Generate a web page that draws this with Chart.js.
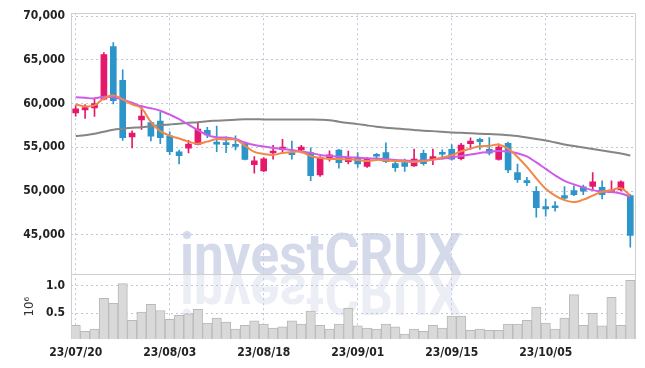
<!DOCTYPE html>
<html>
<head>
<meta charset="utf-8">
<script src="https://cdn.jsdelivr.net/npm/chart.js@4.4.0/dist/chart.umd.min.js"></script>
<style>
html, body { margin: 0; padding: 0; background: #fff; }
#wrap { width: 645px; height: 368px; }
</style>
</head>
<body>
<div id="wrap"><canvas id="chart"></canvas></div>
<script>
// trading days, 23/07/20 .. 23/10/19
const labels = ['23/07/20','23/07/21','23/07/24','23/07/25','23/07/26','23/07/27','23/07/28','23/07/31','23/08/01','23/08/02',
  '23/08/03','23/08/04','23/08/07','23/08/08','23/08/09','23/08/10','23/08/11','23/08/14','23/08/16','23/08/17',
  '23/08/18','23/08/21','23/08/22','23/08/23','23/08/24','23/08/25','23/08/28','23/08/29','23/08/30','23/08/31',
  '23/09/01','23/09/04','23/09/05','23/09/06','23/09/07','23/09/08','23/09/11','23/09/12','23/09/13','23/09/14',
  '23/09/15','23/09/18','23/09/19','23/09/20','23/09/21','23/09/22','23/09/25','23/09/26','23/09/27','23/10/04',
  '23/10/05','23/10/06','23/10/10','23/10/11','23/10/12','23/10/13','23/10/16','23/10/17','23/10/18','23/10/19'];

const opens = [58930,59270,59500,60520,66510,62650,56200,58140,57840,57990,
  56320,54470,54890,55340,56930,55520,55520,55300,55400,53020,
  52310,54350,54730,54390,54690,54400,51850,53750,54690,53350,
  53800,52800,54200,54390,53140,53250,52880,54320,53640,54380,
  54770,53700,55410,55900,54770,53600,55450,52110,51100,49970,
  48220,48250,49470,50050,50490,50520,50410,49890,50110,49470];
const closes = [59390,59550,60000,65600,60340,56090,56630,58560,56280,56090,
  54500,54050,55380,57080,56430,55370,55300,55100,53600,53440,
  53670,54580,55030,54160,55030,51740,53820,54130,53250,53820,
  53100,53750,53980,53360,52680,52800,53640,53140,53940,54200,
  53640,55260,55720,55640,54320,55030,52400,51290,50950,48080,
  47960,48080,49170,49580,49970,51060,49580,50110,51060,44920];
const highs = [59770,59890,60570,65830,66970,63860,56890,59770,57990,59010,
  56770,54690,55800,57730,57270,57420,56200,56300,55500,53950,
  53820,55230,55900,55720,55230,54950,53930,54600,54770,54580,
  54400,53820,54300,55500,53480,53640,54800,54690,54800,54700,
  55300,55450,56090,56050,56100,55410,55600,53070,51550,50500,
  49090,48780,50520,50600,50680,52110,51170,51170,51170,49580];
const lows = [58560,58300,58520,60410,59950,55800,54920,57050,55720,55410,
  54160,53100,54350,55260,56090,54500,54380,54700,53550,52050,
  52200,53640,54500,53640,54350,51170,51660,53400,52620,53100,
  52700,52690,53670,53250,52230,52230,52800,52960,53000,53640,
  53520,53560,54800,54770,54130,53520,52110,50980,50600,47000,
  47120,47680,48980,49470,49580,50030,49090,49850,50000,43560];

// moving averages as drawn (5, 20, 60 day)
const ma5 = [59890,59690,59800,60600,60940,60490,59920,59470,57880,56850,
  56340,56000,55650,55420,55650,55940,55880,55880,55200,54470,
  54240,54130,54350,54470,54470,54010,53780,53670,53670,53610,
  53560,53440,53560,53500,53440,53390,53330,53440,53580,53830,
  54090,54540,54850,55110,55170,55300,54850,53900,52760,51450,
  50260,49470,48960,48730,49010,49470,49920,50090,50320,49470];
const ma20 = [60720,60660,60600,60790,60720,60450,60090,59690,59470,59180,
  58730,58220,57590,56970,56400,56140,56110,55940,55550,55260,
  55090,54920,54810,54690,54520,54350,54130,54010,53930,53860,
  53820,53750,53710,53640,53560,53500,53440,53500,53590,53710,
  53840,54010,54180,54350,54500,54580,54520,54320,53950,53270,
  52530,51790,51160,50760,50400,50100,49950,49880,49720,49340];
const ma60 = [56280,56390,56560,56790,57010,57130,57240,57300,57410,57530,
  57610,57700,57810,57870,57990,58040,58100,58160,58210,58210,
  58190,58180,58180,58180,58180,58180,58160,58100,57930,57780,
  57650,57500,57360,57240,57150,57070,56990,56900,56850,56770,
  56700,56660,56620,56560,56510,56470,56390,56280,56110,55940,
  55770,55550,55320,55150,54980,54810,54640,54470,54300,54070];

// volume, millions of shares
const volumes = [0.28,0.17,0.21,0.77,0.68,1.04,0.37,0.52,0.66,0.55,
  0.39,0.46,0.49,0.57,0.32,0.41,0.34,0.21,0.28,0.36,
  0.30,0.23,0.25,0.36,0.30,0.54,0.28,0.21,0.30,0.59,
  0.27,0.23,0.21,0.30,0.25,0.12,0.21,0.17,0.28,0.23,
  0.45,0.45,0.19,0.21,0.19,0.19,0.30,0.30,0.37,0.61,
  0.32,0.21,0.41,0.84,0.28,0.50,0.27,0.79,0.28,1.10];

const priceTicks = [45000, 50000, 55000, 60000, 65000, 70000];
const volTicks = [0.5, 1.0];

const UP = '#e5196b', DOWN = '#2d95c9';
const candleColors = opens.map((o, i) => closes[i] >= o ? UP : DOWN);
const gridColor = '#c2c6dc';
const dots = [2, 3];
const axisFont = { family: '"DejaVu Sans Condensed", "DejaVu Sans"', size: 12, weight: 'bold' };

const watermark = {
  id: 'watermark',
  beforeDraw(chart) {
    const ctx = chart.ctx;
    const base = chart.scales.yv.top;
    ctx.save();
    ctx.font = 'bold 58px Roboto, "DejaVu Sans"';
    const w = ctx.measureText('investCRUX').width;
    ctx.translate(180, base);
    ctx.scale(282 / w, 1);
    ctx.fillStyle = '#d5daeb';
    ctx.fillText('investCRUX', 0, 0);
    ctx.scale(1, -1);
    ctx.globalAlpha = 0.45;
    ctx.fillText('investCRUX', 0, 0);
    ctx.restore();
  }
};

// solid frame: top, right, left edges and the panel separator
const frame = {
  id: 'frame',
  afterDraw(chart) {
    const ctx = chart.ctx;
    const a = chart.chartArea;
    const sep = chart.scales.yv.top;
    ctx.save();
    ctx.strokeStyle = '#cfcfcf';
    ctx.lineWidth = 1;
    ctx.beginPath();
    ctx.moveTo(a.left, Math.round(a.top) + 0.5);
    ctx.lineTo(a.right, Math.round(a.top) + 0.5);
    ctx.moveTo(Math.round(a.right) + 0.5, a.top);
    ctx.lineTo(Math.round(a.right) + 0.5, a.bottom);
    ctx.moveTo(Math.round(a.left) + 0.5, a.top);
    ctx.lineTo(Math.round(a.left) + 0.5, a.bottom);
    ctx.moveTo(a.left, Math.round(sep) + 0.5);
    ctx.lineTo(a.right, Math.round(sep) + 0.5);
    ctx.stroke();
    ctx.restore();
  }
};

new Chart(document.getElementById('chart'), {
  type: 'bar',
  data: {
    labels: labels,
    datasets: [
      { type: 'line', data: ma5, borderColor: '#f0884a', borderWidth: 2, pointRadius: 0, tension: 0.4, yAxisID: 'y', order: 0 },
      { type: 'line', data: ma20, borderColor: '#cf5ce9', borderWidth: 2, pointRadius: 0, tension: 0.4, yAxisID: 'y', order: 0 },
      { type: 'line', data: ma60, borderColor: '#858585', borderWidth: 2, pointRadius: 0, tension: 0.4, yAxisID: 'y', order: 0 },
      { data: lows.map((l, i) => [l, highs[i]]), backgroundColor: candleColors, barThickness: 1, grouped: false, yAxisID: 'y', order: 1 },
      { data: opens.map((o, i) => [o, closes[i]]), backgroundColor: candleColors, barThickness: 6, minBarLength: 2, grouped: false, yAxisID: 'y', order: 1 },
      { data: volumes, backgroundColor: '#d9d9d9', borderColor: '#b9b9b9', borderWidth: 1, barPercentage: 1, categoryPercentage: 1, grouped: false, yAxisID: 'yv', order: 2 }
    ]
  },
  options: {
    responsive: true,
    maintainAspectRatio: false,
    animation: false,
    layout: { padding: { top: 11, right: 10, left: 0, bottom: 0 } },
    plugins: { legend: { display: false }, tooltip: { enabled: false } },
    scales: {
      x: {
        offset: true,
        grid: {
          offset: false,
          drawTicks: false,
          color: ctx => ctx.index % 10 === 0 ? gridColor : 'rgba(0,0,0,0)'
        },
        border: { display: false, dash: dots },
        ticks: {
          autoSkip: false,
          maxRotation: 0,
          padding: 7,
          color: '#222',
          font: axisFont,
          callback: (v, i) => i % 10 === 0 ? labels[i] : ''
        },
        afterFit: s => { s.height = 29; }
      },
      yv: {
        stack: 'panels',
        stackWeight: 65,
        position: 'left',
        min: 0.03,
        max: 1.207,
        afterBuildTicks: s => { s.ticks = volTicks.map(v => ({ value: v })); },
        grid: { drawTicks: false, color: gridColor },
        border: { display: false, dash: dots },
        title: { display: true, text: '10⁶', color: '#333', font: { family: '"DejaVu Sans Condensed", "DejaVu Sans"', size: 13 }, padding: { top: 22, bottom: 0 } },
        ticks: { padding: 6, color: '#222', font: axisFont, callback: v => v.toFixed(1) },
        afterFit: s => { s.width = 71; }
      },
      y: {
        stack: 'panels',
        stackWeight: 263,
        position: 'left',
        min: 40455,
        max: 70341,
        afterBuildTicks: s => { s.ticks = priceTicks.map(v => ({ value: v })); },
        grid: { drawTicks: false, color: gridColor },
        border: { display: false, dash: dots },
        ticks: { padding: 6, color: '#222', font: axisFont, callback: v => v.toLocaleString('en-US') },
        afterFit: s => { s.width = 71; }
      }
    }
  },
  plugins: [watermark, frame]
});
</script>
</body>
</html>
